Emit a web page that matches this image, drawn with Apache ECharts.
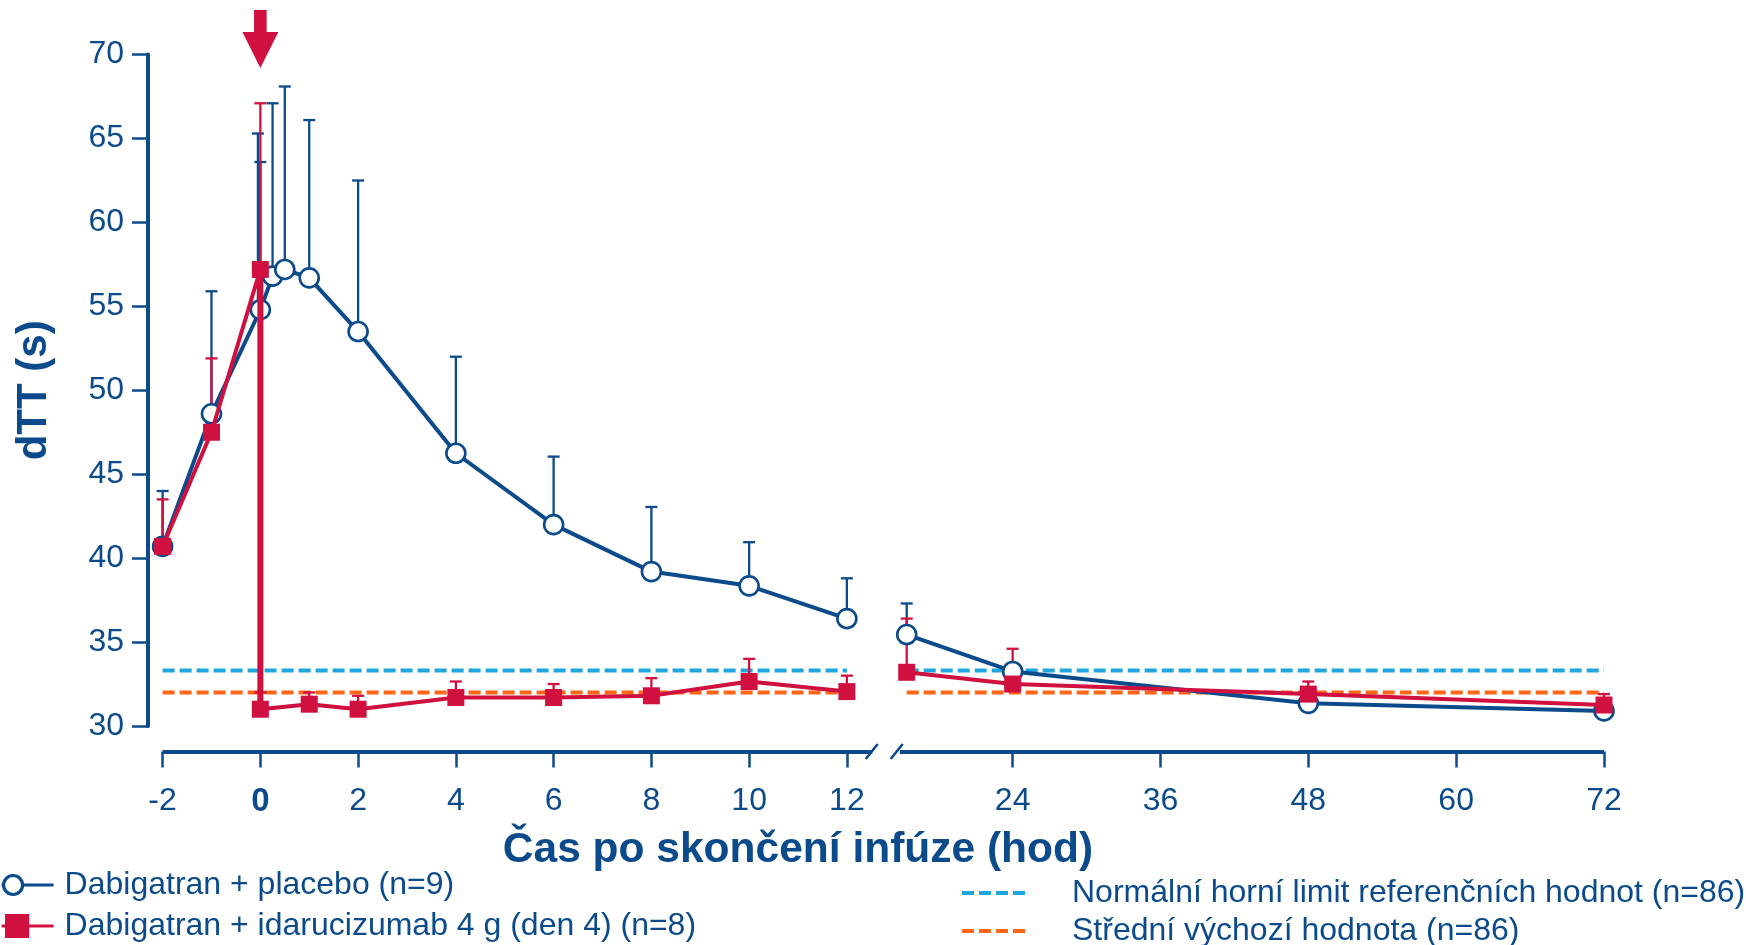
<!DOCTYPE html>
<html><head><meta charset="utf-8">
<script src="https://cdn.jsdelivr.net/npm/echarts@6/dist/echarts.min.js"></script>
<style>html,body{margin:0;padding:0;background:#fff}#c{width:1746px;height:945px}</style>
</head><body><div id="c"></div>
<script>
// ---------- data ----------
const placeboHours = [-2, -1, 0, 0.25, 0.5, 1, 2, 4, 6, 8, 10, 12, 15.4, 24, 48, 72];
const placeboMean  = [40.7, 48.6, 54.8, 56.8, 57.2, 56.7, 53.5, 46.25, 42.0, 39.2, 38.35, 36.4, 35.45, 33.25, 31.35, 30.9];
const placeboUpper = [44.0, 55.9, 63.6, 67.1, 68.1, 66.1, 62.5, 52.0, 46.05, 43.05, 40.95, 38.8, 37.3, null, null, null];
const placeboExtraCaps = [[-0.05, 54.8, 65.3]]; // [hour, from, to]

const idaruHours = [-2, -1, 0, 0, 1, 2, 4, 6, 8, 10, 12, 15.4, 24, 48, 72];
const idaruMean  = [40.7, 47.5, 57.2, 31.0, 31.3, 31.0, 31.7, 31.7, 31.8, 32.65, 32.05, 33.2, 32.5, 31.9, 31.25];
const idaruUpper = [43.5, 51.9, 67.1, 32.0, 32.0, 31.8, 32.65, 32.5, 32.85, 34.0, 33.0, 36.4, 34.6, 32.65, 31.9];

const upperLimitValue = 33.3;   // Normální horní limit referenčních hodnot
const baselineValue = 32.0;     // Střední výchozí hodnota
const refSpan1 = [-2, 12];
const refSpan2 = [15.4, 72];

const xTicks1 = [-2, 0, 2, 4, 6, 8, 10, 12];
const xTicks2 = [24, 36, 48, 60, 72];
const yTicks = [30, 35, 40, 45, 50, 55, 60, 65, 70];
const infusionEndHour = 0;

const names = {
  placebo: 'Dabigatran + placebo (n=9)',
  idaru: 'Dabigatran + idarucizumab 4 g (den 4) (n=8)',
  upper: 'Normální horní limit referenčních hodnot (n=86)',
  base: 'Střední výchozí hodnota (n=86)'
};
const xTitle = 'Čas po skončení infúze (hod)';
const yTitle = 'dTT (s)';

// ---------- styles ----------
const NAVY = '#0B4A8B', RED = '#D0103E', LBLUE = '#1EA6DE', ORANGE = '#FF6616';
const FONT = '"Liberation Sans", Arial, sans-serif';
const BREAK_HOUR = 13.5;
const DASH_ICON = 'path://M0,0h12v4h-12zM17,0h12v4h-12zM34,0h12v4h-12zM51,0h12v4h-12z';
const CIRCLE_ICON = 'path://M0,10L2,10M21,10L52,10M21,10A9.5,9.5,0,1,1,2,10A9.5,9.5,0,1,1,21,10Z';
const SQUARE_ICON = 'path://M0,10.5L5,10.5M26,10.5L52,10.5M5,0L26,0L26,21L5,21Z';

function seg(hours, vals, first) {
  const out = [];
  hours.forEach((h, i) => { if ((h < BREAK_HOUR) === first && vals[i] != null) out.push([h, vals[i]]); });
  return out;
}
function errSeg(hours, mean, upper, first) {
  const out = [];
  hours.forEach((h, i) => { if ((h < BREAK_HOUR) === first && upper[i] != null) out.push([h, mean[i], upper[i]]); });
  return out;
}
function dropSeg(hours, mean) { // consecutive points at the same hour (vertical drop)
  const out = [];
  for (let i = 1; i < hours.length; i++) if (hours[i] === hours[i - 1]) out.push([hours[i], mean[i - 1], mean[i]]);
  return out;
}

function errorSeries(data, color, gi, z) {
  return {
    type: 'custom', xAxisIndex: gi, yAxisIndex: gi, z: z, silent: true,
    data: data,
    renderItem: function (params, api) {
      const x = api.value(0), lo = api.value(1), hi = api.value(2);
      const p0 = api.coord([x, lo]), p1 = api.coord([x, hi]);
      const st = { stroke: color, lineWidth: 2.3 };
      return { type: 'group', children: [
        { type: 'line', shape: { x1: p0[0], y1: p0[1], x2: p1[0], y2: p1[1] }, style: st },
        { type: 'line', shape: { x1: p1[0] - 6, y1: p1[1], x2: p1[0] + 6, y2: p1[1] }, style: st }
      ]};
    }
  };
}
function dropSeries(data, color, gi, z) {
  return {
    type: 'custom', xAxisIndex: gi, yAxisIndex: gi, z: z, silent: true,
    data: data,
    renderItem: function (params, api) {
      const x = api.value(0);
      const p0 = api.coord([x, api.value(1)]), p1 = api.coord([x, api.value(2)]);
      return { type: 'line', shape: { x1: p0[0], y1: p0[1], x2: p1[0], y2: p1[1] }, style: { stroke: color, lineWidth: 6 } };
    }
  };
}

function lineSeries(name, data, color, symbol, size, gi, z, fill) {
  return {
    name: name, type: 'line', xAxisIndex: gi, yAxisIndex: gi, z: z,
    data: data, symbol: symbol, symbolSize: size, showSymbol: true,
    lineStyle: { color: color, width: 4 },
    itemStyle: { color: fill, borderColor: color, borderWidth: symbol === 'circle' ? 2.6 : 0 },
    emphasis: { disabled: true }, animation: false
  };
}
function refSeries(name, value, span, color, gi) {
  return {
    name: name, type: 'line', xAxisIndex: gi, yAxisIndex: gi, z: 1, symbol: 'none',
    data: [[span[0], value], [span[1], value]],
    lineStyle: { color: color, width: 4, type: [12, 5] },
    itemStyle: { color: color }, emphasis: { disabled: true }, animation: false
  };
}

const chart = echarts.init(document.getElementById('c'), null, { renderer: 'canvas' });

const xAxisCommon = {
  type: 'value', position: 'bottom', offset: 25.6,
  axisLine: { show: true, onZero: false, lineStyle: { color: NAVY, width: 4, cap: 'butt' } },
  axisTick: { show: true, length: 16, lineStyle: { color: NAVY, width: 2.5 } },
  axisLabel: { color: NAVY, fontSize: 32, fontFamily: FONT, margin: 34 },
  splitLine: { show: false }
};

const legendText = { color: NAVY, fontSize: 32, fontFamily: FONT, lineHeight: 32 };
function legendItem(name, left, top, opts) {
  return Object.assign({
    data: [name], orient: 'vertical', left: left, top: top, padding: 0,
    itemWidth: 52, itemHeight: 21, selectedMode: false,
    textStyle: Object.assign({}, legendText, { padding: [0, 0, 0, 6] })
  }, opts || {});
}

const option = {
  animation: false,
  textStyle: { fontFamily: FONT },
  grid: [
    { left: 162.6, top: 54.6, width: 709.7, height: 671.4 },
    { left: 899.8, top: 54.6, width: 704.2, height: 671.4 }
  ],
  xAxis: [
    Object.assign({}, xAxisCommon, {
      gridIndex: 0, min: -2, max: 12.52,
      axisTick: Object.assign({}, xAxisCommon.axisTick, { customValues: xTicks1 }),
      axisLabel: Object.assign({}, xAxisCommon.axisLabel, {
        customValues: xTicks1,
        formatter: v => v === 0 ? '{b|0}' : String(v),
        rich: { b: { fontWeight: 'bold', fontSize: 33, color: NAVY, fontFamily: FONT } }
      })
    }),
    Object.assign({}, xAxisCommon, {
      gridIndex: 1, min: 14.84, max: 72,
      axisTick: Object.assign({}, xAxisCommon.axisTick, { customValues: xTicks2 }),
      axisLabel: Object.assign({}, xAxisCommon.axisLabel, { customValues: xTicks2 })
    })
  ],
  yAxis: [
    {
      type: 'value', gridIndex: 0, min: yTicks[0], max: yTicks[yTicks.length - 1], interval: 5,
      offset: 14.6,
      name: yTitle, nameLocation: 'middle', nameRotate: 90, nameGap: 93,
      nameTextStyle: { color: NAVY, fontSize: 42, fontWeight: 'bold', fontFamily: FONT },
      axisLine: { show: true, onZero: false, lineStyle: { color: NAVY, width: 4 } },
      axisTick: { show: true, length: 16, lineStyle: { color: NAVY, width: 2.5 } },
      axisLabel: { color: NAVY, fontSize: 32, fontFamily: FONT, margin: 24 },
      splitLine: { show: false }
    },
    { type: 'value', gridIndex: 1, min: yTicks[0], max: yTicks[yTicks.length - 1], interval: 5, show: false }
  ],
  legend: [
    legendItem(names.placebo, 0, 869, {
      data: [{ name: names.placebo, icon: CIRCLE_ICON,
        itemStyle: { color: '#fff', borderColor: NAVY, borderWidth: 3.2 } }]
    }),
    legendItem(names.idaru, 0, 910, {
      data: [{ name: names.idaru, icon: SQUARE_ICON,
        itemStyle: { color: RED, borderColor: RED, borderWidth: 3.2 } }]
    }),
    legendItem(names.upper, 962, 877, {
      data: [{ name: names.upper, icon: DASH_ICON }], itemWidth: 63, itemHeight: 4,
      textStyle: Object.assign({}, legendText, { padding: [0, 0, 0, 42] })
    }),
    legendItem(names.base, 962, 915, {
      data: [{ name: names.base, icon: DASH_ICON }], itemWidth: 63, itemHeight: 4,
      textStyle: Object.assign({}, legendText, { padding: [0, 0, 0, 42] })
    })
  ],
  graphic: [
    { type: 'text', z: 100, style: { text: xTitle, x: 798, y: 850, align: 'center', verticalAlign: 'middle',
      font: 'bold 42.5px ' + FONT, fill: NAVY } },
    { type: 'line', z: 100, shape: { x1: 865.7, y1: 759, x2: 877.7, y2: 744 }, style: { stroke: NAVY, lineWidth: 2.5 } },
    { type: 'line', z: 100, shape: { x1: 890.7, y1: 759, x2: 902.7, y2: 744 }, style: { stroke: NAVY, lineWidth: 2.5 } }
  ],
  series: [
    refSeries(names.upper, upperLimitValue, refSpan1, LBLUE, 0),
    refSeries(names.upper, upperLimitValue, refSpan2, LBLUE, 1),
    refSeries(names.base, baselineValue, refSpan1, ORANGE, 0),
    refSeries(names.base, baselineValue, refSpan2, ORANGE, 1),

    errorSeries(errSeg(placeboHours, placeboMean, placeboUpper, true).concat(placeboExtraCaps), NAVY, 0, 2),
    errorSeries(errSeg(placeboHours, placeboMean, placeboUpper, false), NAVY, 1, 2),
    errorSeries(errSeg(idaruHours, idaruMean, idaruUpper, true), RED, 0, 2),
    errorSeries(errSeg(idaruHours, idaruMean, idaruUpper, false), RED, 1, 2),

    lineSeries(names.placebo, seg(placeboHours, placeboMean, true), NAVY, 'circle', 19, 0, 3, '#fff'),
    lineSeries(names.placebo, seg(placeboHours, placeboMean, false), NAVY, 'circle', 19, 1, 3, '#fff'),
    dropSeries(dropSeg(idaruHours, idaruMean), RED, 0, 4),
    lineSeries(names.idaru, seg(idaruHours, idaruMean, true), RED, 'rect', 17, 0, 4, RED),
    lineSeries(names.idaru, seg(idaruHours, idaruMean, false), RED, 'rect', 17, 1, 4, RED),

    { // infusion-end arrow
      type: 'custom', xAxisIndex: 0, yAxisIndex: 0, z: 10, silent: true, clip: false,
      data: [[infusionEndHour, yTicks[yTicks.length - 1]]],
      renderItem: function (params, api) {
        const p = api.coord([api.value(0), api.value(1)]);
        const cx = p[0];
        return { type: 'group', children: [
          { type: 'rect', shape: { x: cx - 6.3, y: 10, width: 12.6, height: 23 }, style: { fill: RED } },
          { type: 'polygon', shape: { points: [[cx - 18, 32], [cx + 18, 32], [cx, 68]] }, style: { fill: RED } }
        ]};
      }
    }
  ]
};
chart.setOption(option);
</script>
</body></html>
